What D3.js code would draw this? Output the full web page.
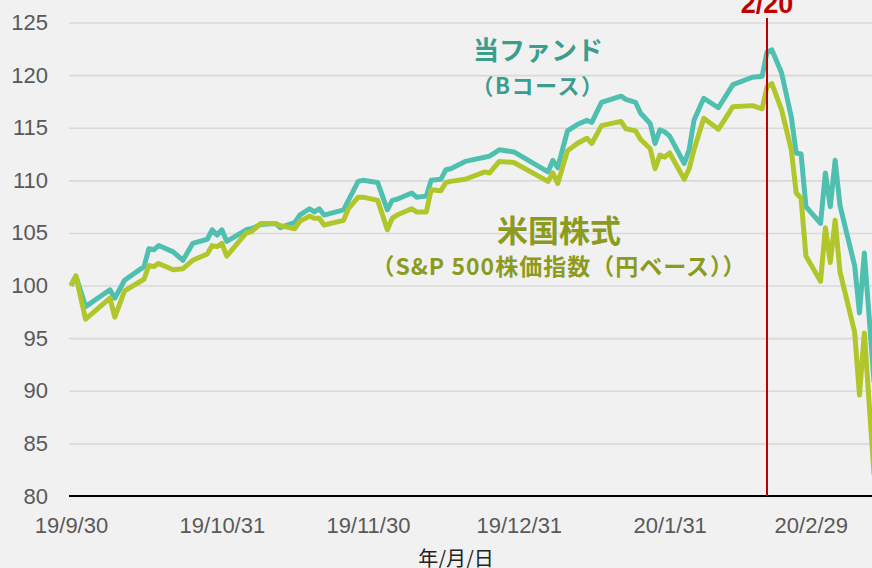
<!DOCTYPE html>
<html>
<head>
<meta charset="utf-8">
<script src="https://cdn.jsdelivr.net/npm/d3@7"></script>
<style>
  body { margin: 0; background: #f1f1f1; }
  svg { display: block; }
  text { font-family: "Liberation Sans", Arial, sans-serif; }
  .jp { font-family: "Noto Sans CJK JP", sans-serif; }
</style>
</head>
<body>
<svg id="svg1" width="872" height="568"></svg>
<script>
// data (index, 2019/9/30 = 100)
var dates = ["2019-09-30","2019-10-01","2019-10-03","2019-10-08","2019-10-09","2019-10-11","2019-10-15","2019-10-16","2019-10-17","2019-10-18",
  "2019-10-21","2019-10-23","2019-10-25","2019-10-28","2019-10-29","2019-10-30","2019-10-31","2019-11-01","2019-11-05","2019-11-06",
  "2019-11-08","2019-11-11","2019-11-12","2019-11-15","2019-11-16","2019-11-18","2019-11-19","2019-11-20","2019-11-21","2019-11-25",
  "2019-11-26","2019-11-28","2019-11-29","2019-12-02","2019-12-04","2019-12-05","2019-12-06","2019-12-09","2019-12-10","2019-12-12",
  "2019-12-13","2019-12-15","2019-12-16","2019-12-17","2019-12-20","2019-12-24","2019-12-25","2019-12-27","2019-12-30","2020-01-06",
  "2020-01-07","2020-01-08","2020-01-10","2020-01-12","2020-01-14","2020-01-15","2020-01-17","2020-01-21","2020-01-22","2020-01-24",
  "2020-01-25","2020-01-27","2020-01-28","2020-01-29","2020-01-30","2020-01-31","2020-02-03","2020-02-04","2020-02-05","2020-02-07",
  "2020-02-10","2020-02-13","2020-02-17","2020-02-19","2020-02-20","2020-02-21","2020-02-23","2020-02-25","2020-02-26","2020-02-27",
  "2020-02-28","2020-03-02","2020-03-03","2020-03-04","2020-03-05","2020-03-06","2020-03-09","2020-03-10","2020-03-11","2020-03-13"];

var fund = [100.0,100.9,98.0,99.6,98.8,100.5,101.8,103.5,103.4,103.8,
  103.2,102.4,104.0,104.4,105.3,104.8,105.3,104.2,105.3,105.4,
  105.8,105.9,105.5,106.0,106.7,107.3,107.0,107.3,106.7,107.2,
  108.1,109.9,110.0,109.8,107.2,108.1,108.2,108.8,108.4,108.5,
  110.0,110.1,111.0,111.1,111.8,112.2,112.3,112.9,112.7,110.8,
  111.9,111.2,114.7,115.3,115.7,115.5,117.4,118.0,117.7,117.4,
  116.4,115.4,113.5,114.8,114.6,114.2,111.6,112.9,115.7,117.8,
  116.9,119.1,119.8,119.9,122.2,122.4,120.2,116.0,112.6,112.5,
  107.5,105.9,110.7,107.5,111.9,107.6,101.9,97.4,103.1,90.8];

var sp500 = [100.0,100.9,96.8,98.8,97.0,99.5,100.6,101.9,101.8,102.1,
  101.5,101.6,102.4,103.0,103.8,103.7,104.0,102.8,105.0,105.1,
  105.9,105.9,105.7,105.4,106.1,106.6,106.4,106.4,105.75,106.2,
  107.3,108.4,108.4,108.1,105.3,106.4,106.7,107.3,107.0,107.0,
  109.1,109.0,109.8,109.9,110.1,110.8,110.7,111.8,111.7,109.9,
  110.7,109.7,112.8,113.5,114.0,113.5,115.2,115.6,114.9,114.7,
  113.9,113.0,111.1,112.4,112.2,112.6,110.1,111.1,112.9,115.9,
  114.85,117.0,117.1,116.8,118.9,119.2,116.7,112.9,108.8,108.3,
  102.8,100.4,105.5,102.2,106.2,101.3,95.6,89.6,95.5,82.0];

var yTicks = [80, 85, 90, 95, 100, 105, 110, 115, 120, 125];
var xTicks = ["2019-09-30","2019-10-31","2019-11-30","2019-12-31","2020-01-31","2020-02-29"];
var markDate = "2020-02-20";

var parser = d3.timeParse("%Y-%m-%d");
var fmt = d3.timeFormat("%y/%-m/%-d");

var rows = dates.map(function(d, i){
    return {date: parser(d), fund: fund[i], sp: sp500[i]};
});

var plotLeft = 69, plotRight = 872, plotTop = 22.5, plotBottom = 496;

var svg = d3.select('#svg1');

var scaleX = d3.scaleTime()
    .domain([parser("2019-09-30"), parser(markDate)])
    .range([71, 767]);
var scaleY = d3.scaleLinear().domain([80, 125]).range([plotBottom, plotTop]);

// gridlines + y labels
var yAxis = svg.append('g')
    .attr('class', 'y-axis')
    .attr('transform', 'translate(' + plotLeft + ',0)')
    .call(d3.axisLeft(scaleY).tickValues(yTicks).tickSize(-(plotRight - plotLeft)).tickPadding(21));
yAxis.select('.domain').remove();
yAxis.selectAll('line').attr('stroke', '#d9d9d9').attr('stroke-width', 1.6);
yAxis.selectAll('text').attr('fill', '#595959').style('font-size', '22px');

// x axis
var xAxis = svg.append('g')
    .attr('class', 'x-axis')
    .attr('transform', 'translate(0,' + plotBottom + ')')
    .call(d3.axisBottom(scaleX).tickValues(xTicks.map(parser)).tickFormat(fmt).tickSize(0).tickPadding(21));
xAxis.select('.domain').remove();
xAxis.selectAll('text').attr('fill', '#595959').style('font-size', '22px');

svg.append('line')
    .attr('x1', plotLeft).attr('x2', plotRight)
    .attr('y1', scaleY(80)).attr('y2', scaleY(80))
    .attr('stroke', '#000').attr('stroke-width', 2);

svg.append('clipPath').attr('id', 'clip')
    .append('rect').attr('x', plotLeft).attr('y', 0).attr('width', plotRight - plotLeft).attr('height', plotBottom);

var lineFund = d3.line().x(function(d){ return scaleX(d.date); }).y(function(d){ return scaleY(d.fund); });
var lineSp = d3.line().x(function(d){ return scaleX(d.date); }).y(function(d){ return scaleY(d.sp); });

var plot = svg.append('g').attr('clip-path', 'url(#clip)');
plot.append('path').datum(rows)
    .attr('d', lineFund)
    .attr('fill', 'none').attr('stroke', '#4fc0b0').attr('stroke-width', 5).attr('stroke-linejoin', 'round');
plot.append('path').datum(rows)
    .attr('d', lineSp)
    .attr('fill', 'none').attr('stroke', '#b0c62a').attr('stroke-width', 5).attr('stroke-linejoin', 'round');

// 2/20 marker
var mx = scaleX(parser(markDate));
svg.append('line')
    .attr('x1', mx).attr('x2', mx).attr('y1', 18).attr('y2', plotBottom)
    .attr('stroke', '#c00000').attr('stroke-width', 2);
svg.append('text')
    .attr('x', mx).attr('y', 13)
    .attr('text-anchor', 'middle')
    .attr('fill', '#c00000')
    .style('font-size', '27px').style('font-weight', 'bold')
    .text('2/20');

// series labels
svg.append('text').attr('class', 'jp')
    .attr('x', 538).attr('y', 60).attr('text-anchor', 'middle')
    .attr('fill', '#3a9d8e').style('font-size', '26px').style('font-weight', 'bold')
    .text('当ファンド');
svg.append('text').attr('class', 'jp')
    .attr('x', 538).attr('y', 94).attr('text-anchor', 'middle')
    .attr('fill', '#3a9d8e').style('font-size', '22px').style('font-weight', 'bold')
    .style('letter-spacing', '1.5px')
    .text('（Bコース）');
svg.append('text').attr('class', 'jp')
    .attr('x', 559).attr('y', 242).attr('text-anchor', 'middle')
    .attr('fill', '#8c9b1e').style('font-size', '31px').style('font-weight', 'bold')
    .text('米国株式');
svg.append('text').attr('class', 'jp')
    .attr('x', 559).attr('y', 275).attr('text-anchor', 'middle')
    .attr('fill', '#8c9b1e').style('font-size', '23px').style('font-weight', 'bold')
    .style('letter-spacing', '1px')
    .text('（S&P 500株価指数（円ベース））');

// axis title
svg.append('text').attr('class', 'jp')
    .attr('x', 456).attr('y', 566).attr('text-anchor', 'middle')
    .attr('fill', '#222').style('font-size', '20px')
    .text('年/月/日');
</script>
</body>
</html>
